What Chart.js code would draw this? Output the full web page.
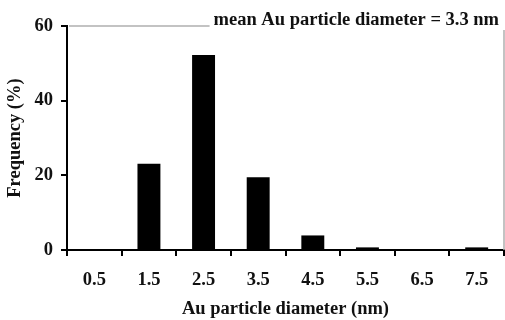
<!DOCTYPE html>
<html>
<head>
<meta charset="utf-8">
<script src="https://cdn.jsdelivr.net/npm/chart.js@4/dist/chart.umd.min.js"></script>
<style>
  html, body { margin: 0; padding: 0; background: #fff; }
  #wrap { width: 505px; height: 320px; position: relative; }
</style>
</head>
<body>
<div id="wrap"><canvas id="c"></canvas></div>
<script>
// Size-distribution histogram of Au particles
const diameters = ['0.5', '1.5', '2.5', '3.5', '4.5', '5.5', '6.5', '7.5'];
const frequency = [0, 23.1, 52.2, 19.5, 3.9, 0.7, 0, 0.7];
const yTicks = [0, 20, 40, 60];
const meanLabel = 'mean Au particle diameter = 3.3 nm';

const serif = '"Liberation Serif", "Times New Roman", serif';
const FS = 18.5;

// Gray frame on top/right plus the mean-diameter note sitting on the top edge
const frameNote = {
  id: 'frameNote',
  afterDraw(chart) {
    const { ctx, chartArea: a } = chart;
    ctx.save();
    ctx.font = 'bold ' + FS + 'px ' + serif;
    const w = ctx.measureText(meanLabel).width;
    const xEnd = a.right - 5;
    const xStart = xEnd - w;
    ctx.strokeStyle = '#b0b0b0';
    ctx.lineWidth = 1.5;
    ctx.beginPath();
    ctx.moveTo(a.left + 2, a.top);
    ctx.lineTo(xStart - 4, a.top);
    ctx.moveTo(a.right, a.top + 4);
    ctx.lineTo(a.right, a.bottom);
    ctx.stroke();
    ctx.fillStyle = '#111';
    ctx.textAlign = 'left';
    ctx.textBaseline = 'alphabetic';
    ctx.fillText(meanLabel, xStart, a.top - 1);
    ctx.restore();
  }
};

new Chart(document.getElementById('c'), {
  type: 'bar',
  data: {
    labels: diameters,
    datasets: [{
      data: frequency,
      backgroundColor: '#000',
      borderWidth: 0,
      barPercentage: 0.42,
      categoryPercentage: 1
    }]
  },
  options: {
    responsive: true,
    maintainAspectRatio: false,
    animation: false,
    layout: { padding: { top: 26, right: 1, left: 4, bottom: 0 } },
    plugins: { legend: { display: false }, tooltip: { enabled: false } },
    scales: {
      x: {
        afterFit(scale) { scale.height = 70; },
        grid: { display: true, drawOnChartArea: false, drawTicks: true, tickLength: 6, color: '#000', lineWidth: 2, offset: true },
        border: { display: true, color: '#000', width: 2 },
        ticks: { color: '#111', font: { family: serif, size: FS, weight: 'bold' }, padding: 13, maxRotation: 0 },
        title: { display: true, text: 'Au particle diameter (nm)', color: '#111', font: { family: serif, size: FS, weight: 'bold' }, padding: { top: 5, bottom: 0 } }
      },
      y: {
        min: 0,
        max: 60,
        afterFit(scale) { scale.width = 63; },
        afterBuildTicks(scale) { scale.ticks = yTicks.map(v => ({ value: v })); },
        grid: { display: true, drawOnChartArea: false, drawTicks: true, tickLength: 6, color: '#000', lineWidth: 2 },
        border: { display: true, color: '#000', width: 2 },
        ticks: { color: '#111', font: { family: serif, size: FS, weight: 'bold' }, padding: 8 },
        title: { display: true, text: 'Frequency (%)', color: '#111', font: { family: serif, size: FS, weight: 'bold' }, padding: { top: 0, bottom: 6 } }
      }
    }
  },
  plugins: [frameNote]
});
</script>
</body>
</html>
